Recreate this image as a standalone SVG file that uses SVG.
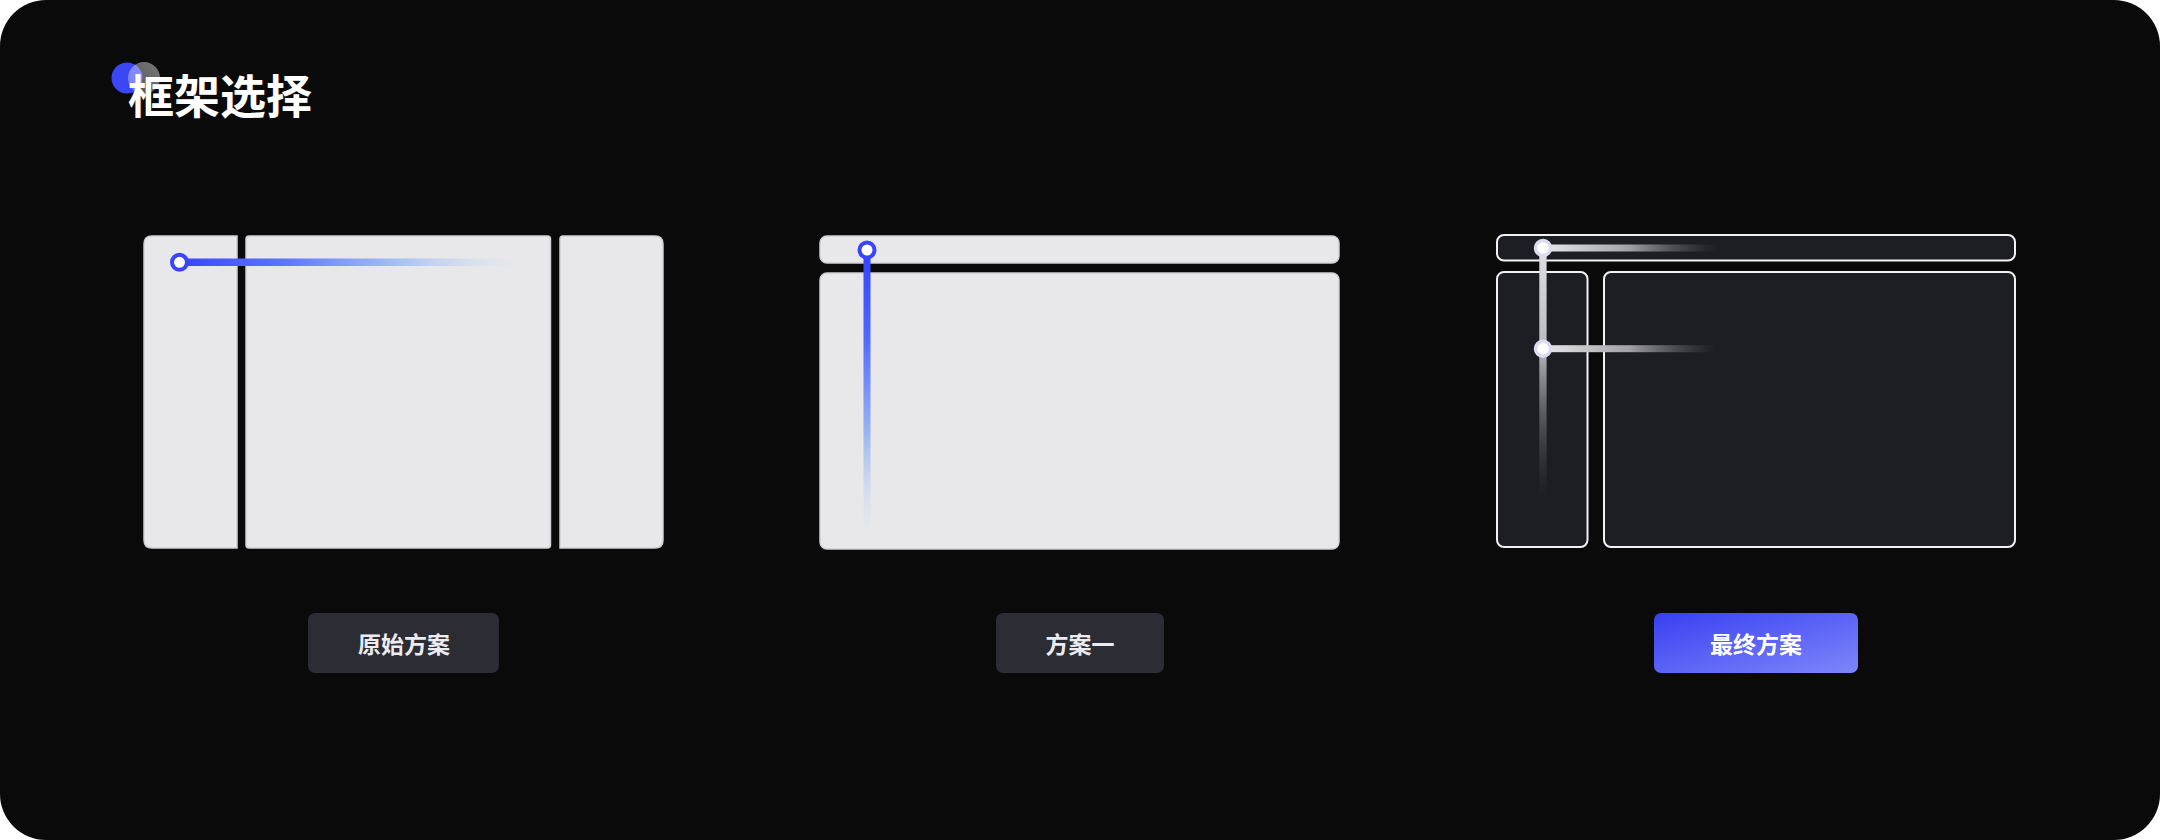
<svg xmlns="http://www.w3.org/2000/svg" width="2160" height="840" viewBox="0 0 2160 840">
  <defs>
    <style>
      .light { fill: #e8e8ea; stroke: #cfcfd4; stroke-width: 1.5; }
      .dark { fill: #1c1e23; stroke: #f2f2f4; stroke-width: 2; }
      .btn { fill: #2c2c34; }
      .btntxt { font-family: "Noto Sans CJK SC", "Noto Sans", sans-serif; font-weight: 700; font-size: 23px; fill: #ececf0; text-anchor: middle; dominant-baseline: central; }
      .title { font-family: "Noto Sans CJK SC", "Noto Sans", sans-serif; font-weight: 700; font-size: 46px; fill: #ffffff; dominant-baseline: central; }
      .knobBlue { fill: #ffffff; stroke: #3a44ff; stroke-width: 4; }
      .knobWhite { fill: #ffffff; stroke: #dcdcee; stroke-width: 3.5; }
    </style>
    <linearGradient id="gBlueH" x1="180" y1="0" x2="514" y2="0" gradientUnits="userSpaceOnUse">
      <stop offset="0" stop-color="#3a44ff"/>
      <stop offset="0.3" stop-color="#5a74ff"/>
      <stop offset="0.65" stop-color="#a6c0f2"/>
      <stop offset="1" stop-color="#e0e6f0" stop-opacity="0.3"/>
    </linearGradient>
    <linearGradient id="gBlueV" x1="0" y1="250" x2="0" y2="532" gradientUnits="userSpaceOnUse">
      <stop offset="0" stop-color="#3440ff"/>
      <stop offset="0.3" stop-color="#4f66ff"/>
      <stop offset="0.65" stop-color="#9ab5f2"/>
      <stop offset="1" stop-color="#e4e8f0" stop-opacity="0.3"/>
    </linearGradient>
    <linearGradient id="gWhiteH" x1="1543" y1="0" x2="1717" y2="0" gradientUnits="userSpaceOnUse">
      <stop offset="0" stop-color="#e8e8ec"/>
      <stop offset="0.5" stop-color="#a0a0a6"/>
      <stop offset="1" stop-color="#606066" stop-opacity="0"/>
    </linearGradient>
    <linearGradient id="gWhiteV" x1="0" y1="248" x2="0" y2="502" gradientUnits="userSpaceOnUse">
      <stop offset="0" stop-color="#e0e0e4"/>
      <stop offset="0.4" stop-color="#b8b8be"/>
      <stop offset="1" stop-color="#44444a" stop-opacity="0"/>
    </linearGradient>
    <linearGradient id="gBtn" x1="0" y1="0" x2="1" y2="1">
      <stop offset="0" stop-color="#3840f2"/>
      <stop offset="1" stop-color="#7e86fa"/>
    </linearGradient>
    <linearGradient id="gDot" x1="1" y1="0" x2="0" y2="1">
      <stop offset="0" stop-color="#ffffff" stop-opacity="0.45"/>
      <stop offset="1" stop-color="#ffffff" stop-opacity="0.3"/>
    </linearGradient>
  </defs>

  <rect x="0" y="0" width="2160" height="840" fill="#ffffff"/>
  <rect id="background" x="0" y="0" width="2160" height="840" rx="46" ry="46" fill="#0a0a0a"/>

  <g id="title">
    <circle cx="127" cy="78" r="15.5" fill="#3b46f5"/>
    <circle cx="144" cy="78" r="16" fill="url(#gDot)"/>
    <text class="title" x="128" y="93">框架选择</text>
  </g>

  <g id="panel-original">
    <path class="light" d="M152,236 H237 V548 H152 Q144,548 144,540 V244 Q144,236 152,236 Z"/>
    <rect class="light" x="246" y="236" width="304.5" height="312" rx="3"/>
    <path class="light" d="M563,236 H655 Q663,236 663,244 V540 Q663,548 655,548 H560 V239 Q560,236 563,236 Z"/>
  </g>

  <g id="panel-scheme1">
    <rect class="light" x="820" y="236" width="519" height="27" rx="7"/>
    <rect class="light" x="820" y="273" width="519" height="276" rx="7"/>
  </g>

  <g id="panel-final">
    <rect class="dark" x="1497" y="235" width="518" height="25.5" rx="7"/>
    <rect class="dark" x="1497" y="272" width="90.5" height="275" rx="7"/>
    <rect class="dark" x="1604" y="272" width="411" height="275" rx="7"/>
  </g>

  <g id="guides">
    <rect x="180" y="258.5" width="334" height="7.5" fill="url(#gBlueH)"/>
    <circle class="knobBlue" cx="179.5" cy="262.3" r="7.5"/>

    <rect x="863.5" y="250" width="7" height="282" fill="url(#gBlueV)"/>
    <circle class="knobBlue" cx="867" cy="250" r="7.5"/>

    <rect x="1539.3" y="248" width="7.3" height="254" fill="url(#gWhiteV)"/>
    <rect x="1543" y="244.5" width="174" height="7" fill="url(#gWhiteH)"/>
    <rect x="1543" y="345.2" width="174" height="7" fill="url(#gWhiteH)"/>
    <circle class="knobWhite" cx="1543" cy="248" r="7.5"/>
    <circle class="knobWhite" cx="1543" cy="348.7" r="7.5"/>
  </g>

  <g id="btn-original">
    <rect class="btn" x="308" y="613" width="191" height="60" rx="7"/>
    <text class="btntxt" x="404" y="643">原始方案</text>
  </g>
  <g id="btn-scheme1">
    <rect class="btn" x="996" y="613" width="168" height="60" rx="7"/>
    <text class="btntxt" x="1080" y="643">方案一</text>
  </g>
  <g id="btn-final">
    <rect x="1654" y="613" width="204" height="60" rx="7" fill="url(#gBtn)"/>
    <text class="btntxt" x="1756" y="643" style="fill:#ffffff">最终方案</text>
  </g>
</svg>
